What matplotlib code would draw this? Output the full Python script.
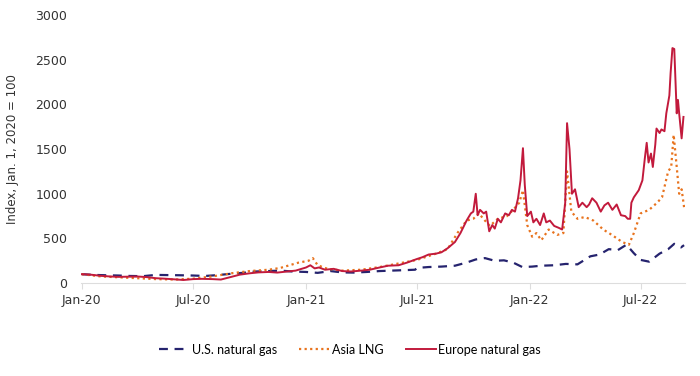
import numpy as np
import pandas as pd
import matplotlib
matplotlib.use("Agg")
import matplotlib.pyplot as plt
import matplotlib.dates as mdates

# values (index, Jan 1 2020 = 100)
us_dates = ["2020-01-01", "2020-01-20", "2020-02-10", "2020-03-01", "2020-03-20", "2020-04-10",
            "2020-05-01", "2020-05-20", "2020-06-10", "2020-07-01", "2020-07-20", "2020-08-10",
            "2020-09-01", "2020-09-20", "2020-10-10", "2020-11-01", "2020-11-20", "2020-12-10",
            "2021-01-01", "2021-01-20", "2021-02-10", "2021-03-01", "2021-03-20", "2021-04-10",
            "2021-05-01", "2021-05-20", "2021-06-10", "2021-06-28", "2021-07-01", "2021-07-20",
            "2021-08-10", "2021-09-01", "2021-09-20", "2021-10-05", "2021-10-20", "2021-11-05",
            "2021-11-20", "2021-12-05", "2021-12-20", "2022-01-05", "2022-01-20", "2022-02-10",
            "2022-03-01", "2022-03-20", "2022-04-10", "2022-04-25", "2022-05-10", "2022-05-25",
            "2022-06-08", "2022-06-20", "2022-07-01", "2022-07-15", "2022-08-01", "2022-08-15",
            "2022-08-25", "2022-09-05", "2022-09-10"]
us_values = [100, 92, 88, 85, 80, 78, 92, 90, 88, 85, 80, 90,
             105, 115, 130, 135, 140, 130, 125, 115, 135, 120, 118, 125,
             135, 140, 145, 150, 170, 180, 185, 195, 230, 265, 280, 250,
             255, 230, 180, 185, 195, 200, 215, 210, 300, 320, 380, 370,
             430, 335, 260, 240, 330, 380, 440, 400, 425]

asia_dates = ["2020-01-01", "2020-02-01", "2020-03-01", "2020-04-01", "2020-05-01", "2020-06-01",
              "2020-07-01", "2020-08-01", "2020-09-01", "2020-10-01", "2020-11-01", "2020-11-20",
              "2020-12-05", "2020-12-20", "2021-01-05", "2021-01-12", "2021-01-20", "2021-02-05",
              "2021-03-01", "2021-04-01", "2021-05-01", "2021-06-01", "2021-07-01", "2021-08-01",
              "2021-08-20", "2021-09-05", "2021-09-20", "2021-10-01", "2021-10-10", "2021-10-20",
              "2021-10-28", "2021-11-10", "2021-11-25", "2021-12-05", "2021-12-15", "2021-12-21",
              "2021-12-28", "2022-01-05", "2022-01-12", "2022-01-20", "2022-02-01", "2022-02-15",
              "2022-02-25", "2022-03-03", "2022-03-10", "2022-03-20", "2022-04-01", "2022-04-15",
              "2022-05-01", "2022-05-15", "2022-06-01", "2022-06-12", "2022-06-20", "2022-07-01",
              "2022-07-15", "2022-07-28", "2022-08-05", "2022-08-15", "2022-08-20", "2022-08-24",
              "2022-08-29", "2022-09-02", "2022-09-06", "2022-09-10"]
asia_values = [100, 75, 65, 55, 45, 40, 50, 75, 110, 135, 150, 170,
               200, 230, 250, 280, 200, 160, 140, 150, 180, 220, 260, 330,
               380, 560, 700, 720, 780, 700, 640, 720, 750, 820, 900, 1040,
               650, 520, 560, 480, 600, 540, 560, 1250, 800, 720, 740, 700,
               600, 540, 460, 430, 560, 780, 820, 900, 960, 1250, 1300, 1660,
               1300, 1000, 1050, 850]

eu_dates = ["2020-01-01", "2020-01-15", "2020-02-01", "2020-02-15", "2020-03-01", "2020-03-15",
            "2020-04-01", "2020-04-15", "2020-05-01", "2020-05-15", "2020-06-01", "2020-06-15",
            "2020-07-01", "2020-07-15", "2020-08-01", "2020-08-15", "2020-09-01", "2020-09-15",
            "2020-10-01", "2020-10-15", "2020-11-01", "2020-11-15", "2020-12-01", "2020-12-15",
            "2021-01-01", "2021-01-08", "2021-01-15", "2021-01-22", "2021-02-01", "2021-02-15",
            "2021-03-01", "2021-03-15", "2021-04-01", "2021-04-15", "2021-05-01", "2021-05-15",
            "2021-06-01", "2021-06-15", "2021-07-01", "2021-07-10", "2021-07-20", "2021-08-01",
            "2021-08-10", "2021-08-20", "2021-09-01", "2021-09-10", "2021-09-20", "2021-09-27",
            "2021-10-01", "2021-10-05", "2021-10-08", "2021-10-12", "2021-10-18", "2021-10-22",
            "2021-10-27", "2021-11-01", "2021-11-05", "2021-11-10", "2021-11-15", "2021-11-22",
            "2021-11-28", "2021-12-03", "2021-12-08", "2021-12-13", "2021-12-17", "2021-12-21",
            "2021-12-24", "2021-12-28", "2022-01-03", "2022-01-07", "2022-01-12", "2022-01-18",
            "2022-01-24", "2022-01-28", "2022-02-03", "2022-02-10", "2022-02-17", "2022-02-23",
            "2022-02-28", "2022-03-03", "2022-03-07", "2022-03-11", "2022-03-16", "2022-03-22",
            "2022-03-28", "2022-04-04", "2022-04-08", "2022-04-13", "2022-04-20", "2022-04-27",
            "2022-05-03", "2022-05-09", "2022-05-16", "2022-05-23", "2022-05-30", "2022-06-06",
            "2022-06-10", "2022-06-14", "2022-06-16", "2022-06-20", "2022-06-24", "2022-06-28",
            "2022-07-04", "2022-07-08", "2022-07-11", "2022-07-14", "2022-07-18", "2022-07-21",
            "2022-07-25", "2022-07-27", "2022-08-01", "2022-08-04", "2022-08-09", "2022-08-12",
            "2022-08-17", "2022-08-19", "2022-08-22", "2022-08-25", "2022-08-29", "2022-08-31",
            "2022-09-02", "2022-09-06", "2022-09-09"]
eu_values = [100, 95, 82, 75, 70, 72, 74, 68, 55, 50, 42, 35,
             45, 48, 45, 40, 70, 95, 110, 120, 125, 118, 130, 140,
             175, 200, 165, 175, 150, 160, 135, 130, 140, 150, 175, 195,
             200, 230, 270, 290, 320, 330, 345, 390, 460, 560, 700, 780,
             800, 1000, 760, 820, 780, 800, 580, 650, 610, 720, 680, 780,
             760, 820, 800, 950, 1150, 1510, 1100, 750, 800, 680, 720, 650,
             780, 680, 700, 640, 620, 600, 900, 1790, 1500, 1000, 1050, 850,
             900, 850, 880, 950, 900, 800, 870, 900, 820, 880, 760, 750,
             720, 720, 900, 960, 1000, 1040, 1150, 1400, 1570, 1350, 1450, 1300,
             1550, 1730, 1680, 1720, 1700, 1900, 2100, 2350, 2630, 2620, 1900, 2050,
             1900, 1620, 1860]

tick_dates = ["2020-01-01", "2020-07-01", "2021-01-01", "2021-07-01", "2022-01-01", "2022-07-01"]
tick_labels = ["Jan-20", "Jul-20", "Jan-21", "Jul-21", "Jan-22", "Jul-22"]

fig = plt.figure(figsize=(7, 3.76), dpi=100)
ax = fig.add_axes([0.116, 0.247, 0.863, 0.713])

ax.plot(pd.to_datetime(us_dates), us_values, color="#25236e", lw=1.6,
        ls=(0, (4, 3)), label="U.S. natural gas")
ax.plot(pd.to_datetime(asia_dates), asia_values, color="#e8731e", lw=1.6,
        ls=(0, (1, 1.5)), label="Asia LNG")
ax.plot(pd.to_datetime(eu_dates), eu_values, color="#c21a3c", lw=1.4,
        label="Europe natural gas")

ax.set_ylim(0, 3000)
ax.set_yticks(range(0, 3001, 500))
ax.set_xlim(pd.Timestamp("2019-12-31"), pd.Timestamp("2022-09-12"))
ax.set_xticks(pd.to_datetime(tick_dates))
ax.set_xticklabels(tick_labels)

for s in ["top", "right", "left"]:
    ax.spines[s].set_visible(False)
ax.spines["bottom"].set_color("#dddddd")
ax.tick_params(axis="y", length=0, labelsize=9, colors="#333333", pad=10)
ax.tick_params(axis="x", length=4, color="#dddddd", labelsize=9, labelcolor="#333333", pad=4)

ax.set_ylabel("Index, Jan. 1, 2020 = 100", fontsize=8.5, color="#333333", labelpad=12)

fig.legend(loc="center", bbox_to_anchor=(0.5, 0.07), ncol=3, frameon=False,
           handlelength=2.4, handletextpad=0.2, columnspacing=1.8,
           prop={"family": "Lato", "size": 9})

fig.savefig("out.png", dpi=100)
